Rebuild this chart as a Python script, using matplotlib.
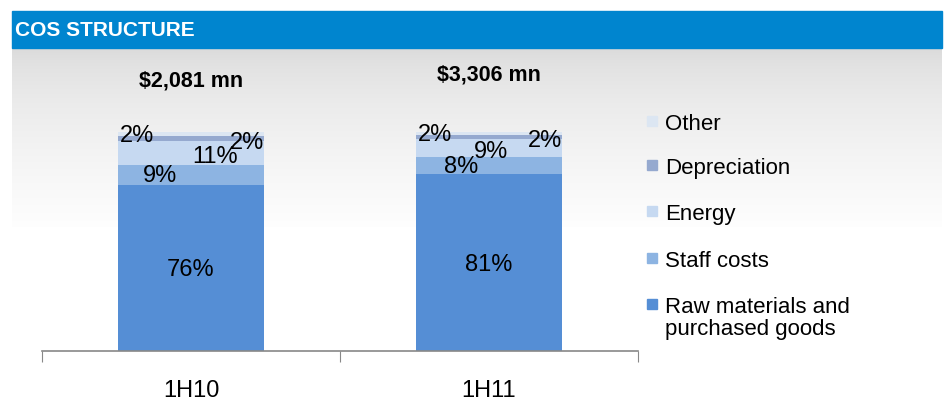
import numpy as np
from matplotlib import pyplot as plt
from matplotlib.patches import Rectangle

periods = ['1H10', '1H11']
totals = ['$2,081 mn', '$3,306 mn']
series = ['Raw materials and\npurchased goods', 'Staff costs', 'Energy', 'Depreciation', 'Other']
raw = [76, 80.6]
staff = [9, 7.8]
energy = [11, 8.6]
depreciation = [2, 1.5]
other = [2, 1.5]
colors = ['#558ED5', '#8DB4E2', '#C6D9F1', '#95A9CF', '#DCE6F2']

W, H = 947, 410
fig = plt.figure(figsize=(W / 100, H / 100), dpi=100)
font = 'Liberation Sans'

# background: gray to white gradient under the header
bg = fig.add_axes([0, 0, 1, 1], zorder=0)
bg.set_xlim(0, W)
bg.set_ylim(H, 0)
bg.axis('off')
t = np.linspace(0, 1, 256).reshape(-1, 1)
g = 0.85 + 0.145 * t ** 0.6
bg.imshow(np.dstack([g, g, g]), extent=[12, 942, 228, 49], aspect='auto', origin='upper',
          interpolation='bilinear')
bg.add_patch(Rectangle((12, 12), 942 - 12, 37, color='#0085CF'))
bg.text(15, 31, 'COS STRUCTURE', color='white', fontsize=15, fontweight='bold',
        va='center', family=font)

ax = fig.add_axes([42 / W, 1 - 352 / H, 596 / W, 292 / H], zorder=1)
ax.patch.set_visible(False)
x = np.arange(len(periods))
stack = [raw, staff, energy, depreciation, other]
bottom = np.zeros(len(periods))
for vals, col in zip(stack, colors):
    ax.bar(x, vals, 0.49, bottom=bottom, color=col)
    bottom += np.array(vals)

energy_dx = [0.081, 0.007]
staff_dx = [-0.104, -0.094]
for i in range(len(periods)):
    kw = dict(ha='center', va='center', fontsize=17, family=font)
    ax.text(x[i], raw[i] * 0.49, '%.0f%%' % raw[i], **kw)
    b = raw[i]
    ax.text(x[i] + staff_dx[i], b + staff[i] / 2, '%.0f%%' % staff[i], **kw)
    b += staff[i]
    ax.text(x[i] + energy_dx[i], b + energy[i] / 2 - 1.5, '%.0f%%' % energy[i], **kw)
    b += energy[i]
    ax.text(x[i] + 0.187, b - 0.8, '%.0f%%' % depreciation[i], **kw)
    b += depreciation[i]
    ax.text(x[i] - 0.18, b + 0.5, '%.0f%%' % other[i], **kw)
    ax.text(x[i], 123.7 + 2.8 * i, totals[i], ha='center', va='center', fontsize=15.5,
            fontweight='bold', family=font)

ax.set_xlim(-0.5, 1.5)
ax.set_ylim(0, 133.3)
ax.set_xticks([-0.5, 0.5, 1.5])
ax.set_xticklabels([])
ax.set_xticks(x, minor=True)
ax.set_xticklabels(periods, minor=True, fontsize=17, family=font)
ax.tick_params(axis='x', which='major', length=8, color='#888888', direction='out')
ax.tick_params(axis='x', which='minor', length=0, pad=20)
ax.set_yticks([])
for s in ['top', 'right', 'left']:
    ax.spines[s].set_visible(False)
ax.spines['bottom'].set_color('#888888')
ax.spines['bottom'].set_linewidth(1.2)

# legend, top to bottom in reverse stack order
leg_base = [130, 174, 220, 267, 313]
for k, idx in enumerate(range(len(series) - 1, -1, -1)):
    y = leg_base[k]
    bg.add_patch(Rectangle((647, y - 13), 10, 10, color=colors[idx], zorder=3))
    for j, line in enumerate(series[idx].split('\n')):
        bg.text(665, y + 22 * j, line, fontsize=16, va='baseline', family=font, zorder=3)
fig.savefig('out.png', dpi=100)
